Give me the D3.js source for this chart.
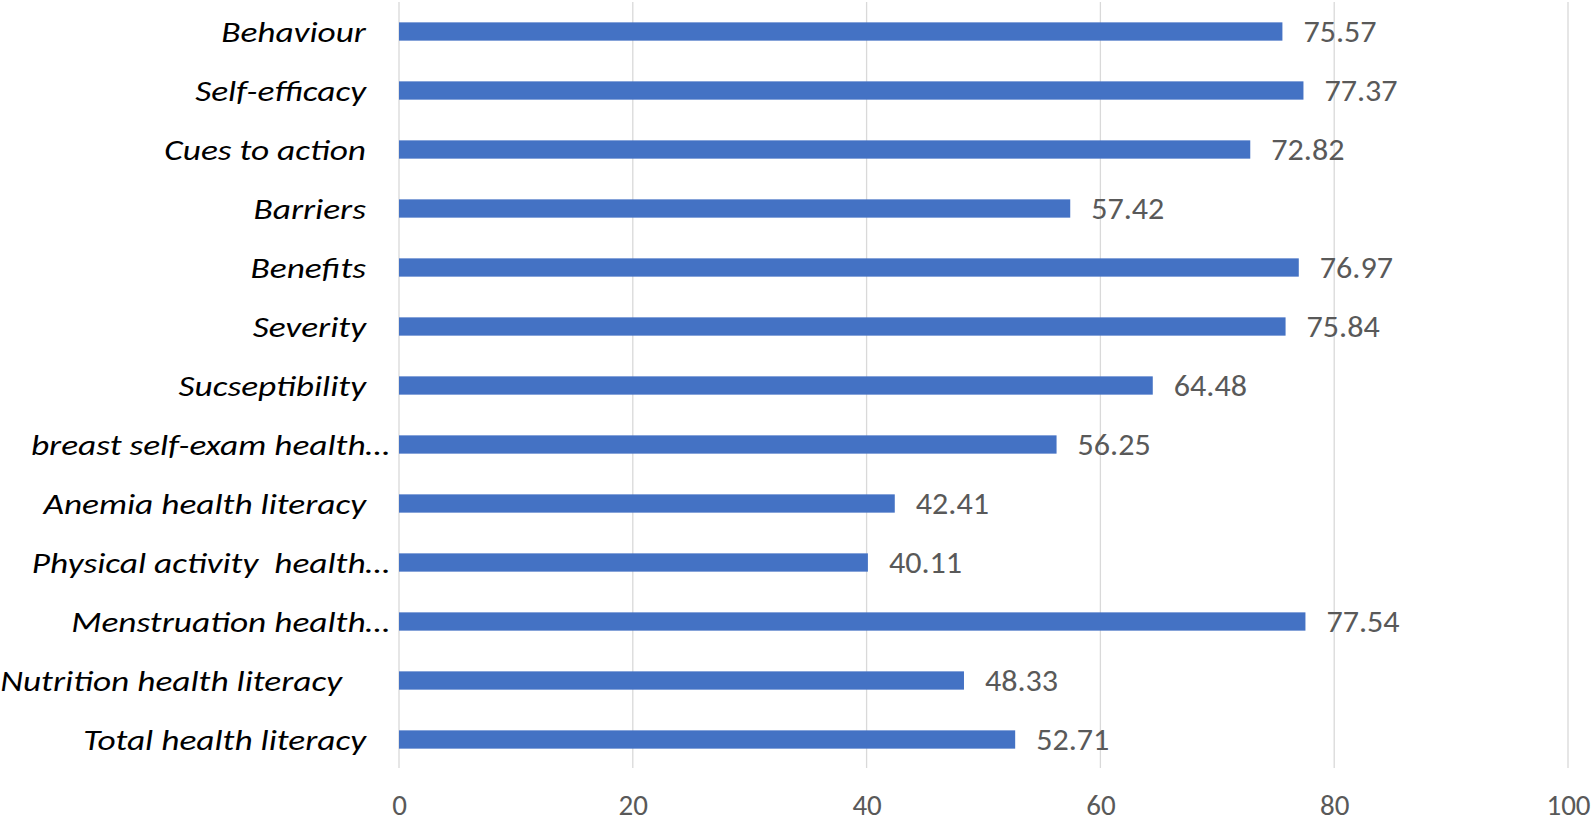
<!DOCTYPE html>
<html>
<head>
<meta charset="utf-8">
<script src="https://cdn.jsdelivr.net/npm/d3@7"></script>
<style>
  body { margin: 0; background: #fff; }
  svg { display: block; }
  text { font-family: Carlito, Lato, "Open Sans", sans-serif; }
</style>
</head>
<body>
<div id="chart"></div>
<script>
// categories top to bottom, labels as shown (Excel keeps trailing spaces)
var categories = [
  "Behaviour ", "Self-efficacy ", "Cues to action ", "Barriers ", "Benefits ",
  "Severity ", "Sucseptibility ", "breast self-exam health\u2026",
  "Anemia health literacy ", "Physical activity  health\u2026",
  "Menstruation health\u2026", "Nutrition health literacy  ", "Total health literacy "
];
var values = [75.57, 77.37, 72.82, 57.42, 76.97, 75.84, 64.48, 56.25, 42.41, 40.11, 77.54, 48.33, 52.71];
var ticks = [0, 20, 40, 60, 80, 100];

var width = 1594, height = 822;
var data = categories.map(function(c, i) { return { name: c, value: values[i] }; });

var svg = d3.select("#chart").append("svg")
  .attr("width", width)
  .attr("height", height);

var x = d3.scaleLinear().domain([0, 100]).range([399, 1568]);
var y = d3.scaleBand().domain(categories).range([2, 769]).paddingInner(0.69).paddingOuter(0.345);

// gridlines
svg.append("g").selectAll("line")
  .data(ticks)
  .enter().append("line")
  .attr("x1", function(d) { return x(d); })
  .attr("x2", function(d) { return x(d); })
  .attr("y1", 2)
  .attr("y2", 768)
  .attr("stroke", "#d9d9d9")
  .attr("stroke-width", 1.3);

// x axis labels
var xAxis = d3.axisBottom(x).tickValues(ticks).tickSize(0).tickPadding(0);
var gx = svg.append("g")
  .attr("transform", "translate(0,794)")
  .call(xAxis);
gx.select(".domain").remove();
gx.selectAll("text")
  .attr("dy", "0.71em")
  .attr("fill", "#595959")
  .style("font-size", "29px")
  .style("font-family", "Carlito, Lato, sans-serif");

// bars
svg.append("g").selectAll("rect")
  .data(data)
  .enter().append("rect")
  .attr("x", x(0))
  .attr("y", function(d) { return y(d.name); })
  .attr("width", function(d) { return x(d.value) - x(0); })
  .attr("height", y.bandwidth())
  .attr("fill", "#4472c4");

// value labels
svg.append("g").selectAll("text")
  .data(data)
  .enter().append("text")
  .attr("transform", function(d) {
    return "translate(" + (x(d.value) + 21) + "," + (y(d.name) + y.bandwidth() / 2) + ") scale(1.07,1)";
  })
  .attr("dy", "0.35em")
  .attr("fill", "#595959")
  .style("font-size", "30px")
  .text(function(d) { return d.value.toFixed(2); });

// category labels (the source font is drawn wide, so stretch a little)
svg.append("g").selectAll("text")
  .data(data)
  .enter().append("text")
  .attr("transform", function(d) {
    var trail = d.name.length - d.name.replace(/\s+$/, "").length;
    var xe = 390 - trail * 24;
    return "translate(" + xe + "," + (y(d.name) + y.bandwidth() / 2) + ") scale(1.22,1)";
  })
  .attr("dy", "0.35em")
  .attr("text-anchor", "end")
  .attr("fill", "#000")
  .style("font-size", "29px")
  .style("font-style", "italic")
  .style("white-space", "pre")
  .text(function(d) { return d.name.replace(/\s+$/, ""); });
</script>
</body>
</html>
